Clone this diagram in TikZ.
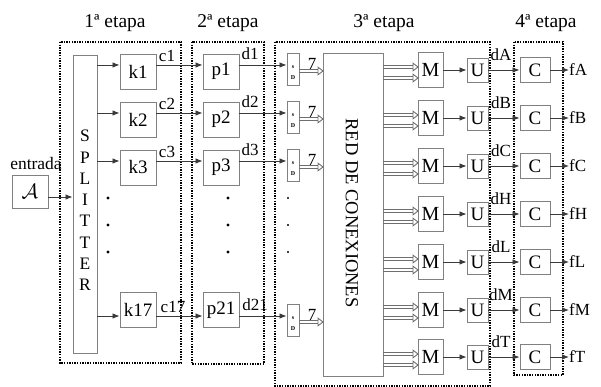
\documentclass[tikz,border=0pt]{standalone}
\usepackage{fontspec}
\setmainfont{Liberation Serif}
\usetikzlibrary{arrows.meta,calc}
\definecolor{boxgray}{HTML}{808080}
\definecolor{linegray}{HTML}{3A3A3A}
\definecolor{busgray}{HTML}{6E6E6E}
\begin{document}
\begin{tikzpicture}[x=1pt,y=-1pt,
  box/.style={draw=boxgray, line width=0.9pt, inner sep=0pt, font=\fontsize{19}{19}\selectfont},
  ar/.style={draw=linegray, line width=0.8pt, -{Latex[length=7pt,width=5.5pt]}},
  dotbox/.style={draw=black, line width=1.4pt, dash pattern=on 1.4pt off 1.2pt},
  lbl/.style={font=\fontsize{17.5}{17.5}\selectfont, inner sep=0pt},
  stlbl/.style={font=\fontsize{19.5}{19.5}\selectfont, inner sep=0pt},
  smlbl/.style={font=\fontsize{17}{17}\selectfont, inner sep=0pt},
  busl/.style={draw=busgray, line width=1pt},
  bustip/.style={draw=busgray, fill=white, line width=0.9pt},
  bigdot/.style={circle, fill=black, inner sep=0pt, minimum size=3.2pt},
  smalldot/.style={circle, fill=black, inner sep=0pt, minimum size=2.2pt},
]
\useasboundingbox (0,0) rectangle (601,387);
\newcommand{\busline}[2]{%
  \draw[busl] ($(#1)+(0,-1.6)$) -- ($(#2)+(-5,-1.6)$)
              ($(#1)+(0,1.6)$) -- ($(#2)+(-5,1.6)$);
  \draw[bustip] ($(#2)+(-5,-3.8)$) -- (#2) -- ($(#2)+(-5,3.8)$) -- cycle;}

% stage labels
\node[stlbl] (e1) at (115,23) {1ª etapa};
\node[stlbl] (e2) at (228,23) {2ª etapa};
\node[stlbl] (e3) at (384,23) {3ª etapa};
\node[stlbl] (e4) at (546,23) {4ª etapa};

% dotted stage boxes
\draw[dotbox] (60,42) rectangle (181,363);
\draw[dotbox] (192,42) rectangle (264,364);
\draw[dotbox] (275,42) rectangle (490,386);
\draw[dotbox] (514,42) rectangle (563,375);

% input
\node[lbl] (ent) at (36,164) {entrada};
\node[box, minimum width=36pt, minimum height=33pt, font=\fontsize{22}{22}\selectfont] (A) at (30,191.5) {$\mathcal{A}$};
\node[box, minimum width=24pt, minimum height=298pt] (SPL) at (85,204) {};
\foreach \l [count=\i from 0] in {S,P,L,I,T,T,E,R}
  \node[lbl] (spl\i) at (85,{136+21.3*\i}) {\l};
\coordinate (Ain) at ($(A.east)+(0,5.5)$);
\draw[ar] (Ain) -- (SPL.west |- Ain);

% rows of stage 1-3 inputs
\foreach \r/\kc/\kn/\pn/\cx/\cn/\dx/\dn/\i in {65/6.5/k1/p1/167/c1/250/d1/1, 113/6.5/k2/p2/167/c2/250/d2/2, 161/6.5/k3/p3/167/c3/250/d3/3, 316/-6/k17/p21/173/c17/255/d21/4}{
  \node[box, minimum width=36pt, minimum height=35pt] (k\i) at (138,\r+\kc) {\kn};
  \node[box, minimum width=36pt, minimum height=35pt] (p\i) at (221,\r+\kc) {\pn};
  \node[box, minimum width=12pt, minimum height=32pt] (sd\i) at (293,\r+4) {};
  \node[font=\fontsize{6}{6}\selectfont\bfseries, inner sep=0pt] (sds\i) at (293,\r+2) {s};
  \node[font=\fontsize{6}{6}\selectfont\bfseries, inner sep=0pt] (sdd\i) at (293,\r+13) {D};
  \coordinate (rowk\i) at (0,\r);
  \draw[ar] (SPL.east |- rowk\i) -- (k\i.west |- rowk\i);
  \draw[ar] (k\i.east |- rowk\i) -- (p\i.west |- rowk\i);
  \draw[ar] (p\i.east |- rowk\i) -- (sd\i.west |- rowk\i);
  \node[smlbl] (cl\i) at (\cx,\r-9) {\cn};
  \node[smlbl] (dl\i) at (\dx,\r-11) {\dn};
  \node[smlbl] (seven\i) at (312,\r-1) {7};
  \coordinate (bs\i) at (299,\r+6);
  \coordinate (be\i) at (323,\r+6);
}

% red de conexiones
\node[box, minimum width=60pt, minimum height=323pt] (RED) at (353,214.5) {};
\node[font=\fontsize{18.5}{18.5}\selectfont, inner sep=0pt, rotate=-90] (redt) at (352,213) {RED DE CONEXIONES};
\busline{bs1}{be1}
\busline{bs2}{be2}
\busline{bs3}{be3}
\busline{bs4}{be4}

% dots
\foreach \y [count=\j] in {198,225,252}{
  \node[bigdot] (da\j) at (108,\y) {};
  \node[bigdot] (db\j) at (228,\y) {};
  \node[smalldot] (dc\j) at (288,\y) {};
}

% outputs
\foreach \n/\cy in {A/70,B/118,C/166,H/214,L/262,M/310,T/357}{
  \node[box, minimum width=25pt, minimum height=35pt, font=\fontsize{20}{20}\selectfont] (M\n) at (430.5,\cy) {M};
  \node[box, minimum width=21pt, minimum height=24pt] (U\n) at (477.5,\cy) {U};
  \node[box, minimum width=30pt, minimum height=25pt] (C\n) at (535,\cy) {C};
  \node[smlbl, anchor=west] (f\n) at (569,\cy) {f\n};
  \node[smlbl] (d\n) at (501,\cy-15) {d\n};
  \coordinate (ma\n) at (418,\cy-3);
  \coordinate (mb\n) at (418,\cy+8);
  \coordinate (ra\n) at (383,\cy-3);
  \coordinate (rb\n) at (383,\cy+8);
  \busline{ra\n}{ma\n}
  \busline{rb\n}{mb\n}
  \draw[ar] (M\n) -- (U\n);
  \draw[ar] (U\n) -- (C\n);
  \draw[ar] (C\n) -- (f\n);
}
\end{tikzpicture}
\end{document}
